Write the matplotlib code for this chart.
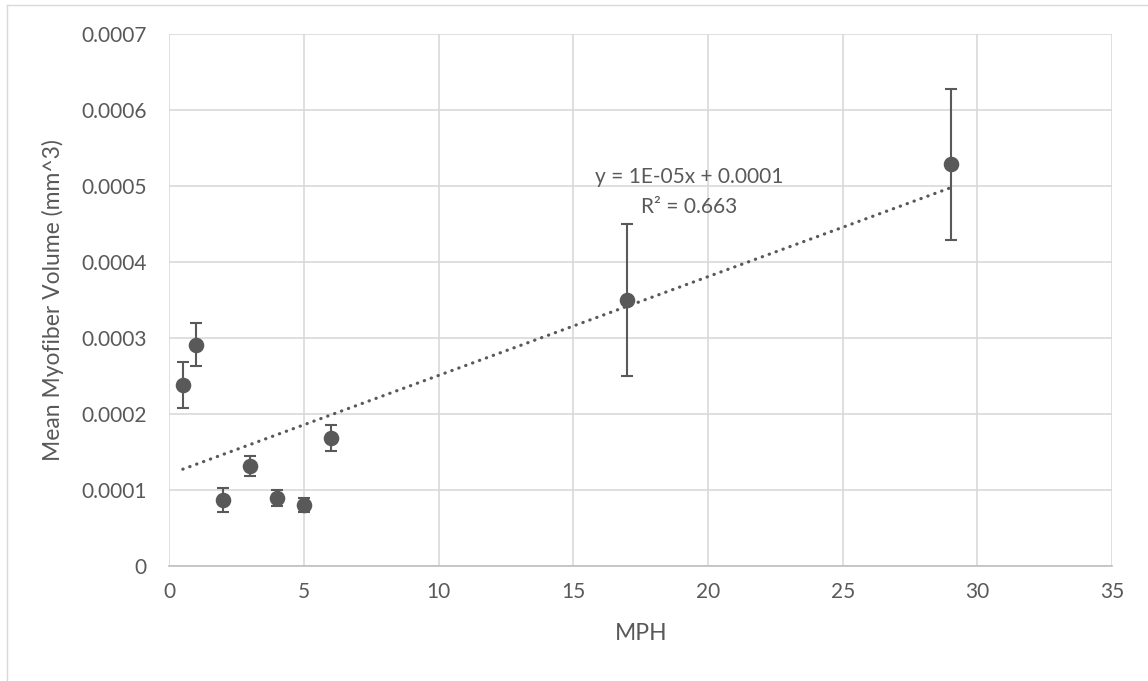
import matplotlib
matplotlib.use("Agg")
import matplotlib.pyplot as plt
from matplotlib.lines import Line2D
import numpy as np

# Datos
mph = [0.5, 1, 2, 3, 4, 5, 6, 17, 29]
volume = [0.000238, 0.000291, 0.0000865, 0.000131, 0.000089, 0.000080, 0.000168, 0.000350, 0.000528]
volume_err = [0.000030, 0.000028, 0.000016, 0.000013, 0.000011, 0.0000095, 0.000017, 0.000100, 0.000099]

x_ticks = [0, 5, 10, 15, 20, 25, 30, 35]
y_ticks = [0, 0.0001, 0.0002, 0.0003, 0.0004, 0.0005, 0.0006, 0.0007]
y_tick_labels = ["0", "0.0001", "0.0002", "0.0003", "0.0004", "0.0005", "0.0006", "0.0007"]

trend_eq = "y = 1E-05x + 0.0001"
trend_r2 = "R² = 0.663"

TEXT = "#595959"
GRID = "#d9d9d9"
MARK = "#595959"

plt.rcParams["font.family"] = ["Lato", "DejaVu Sans"]

fig = plt.figure(figsize=(11.48, 6.81), dpi=100)
ax = fig.add_axes([0.1475, 0.1693, 0.8213, 0.7812])

# Marco exterior del área del gráfico (estilo Excel)
fig.add_artist(Line2D([7 / 1148, 7 / 1148], [0, 1 - 5 / 681], transform=fig.transFigure,
                      color=GRID, linewidth=1))
fig.add_artist(Line2D([7 / 1148, 1], [1 - 5 / 681, 1 - 5 / 681], transform=fig.transFigure,
                      color=GRID, linewidth=1))

ax.errorbar(mph, volume, yerr=volume_err, fmt="o", color=MARK, markersize=10.2,
            ecolor=MARK, elinewidth=1.5, capsize=4.4, capthick=1.5, zorder=3)

# Línea de tendencia lineal
slope, intercept = np.polyfit(mph, volume, 1)
xs = np.array([min(mph), max(mph)])
ax.plot(xs, slope * xs + intercept, color=MARK, linewidth=2.3,
        linestyle=(0, (0.1, 2.2)), dash_capstyle="round", zorder=2)

ax.text(19.3, 0.000512, trend_eq, ha="center", va="center", fontsize=15, color=TEXT)
ax.text(19.3, 0.000472, trend_r2, ha="center", va="center", fontsize=15, color=TEXT)

ax.set_xlim(0, 35)
ax.set_ylim(0, 0.0007)
ax.set_xticks(x_ticks)
ax.set_yticks(y_ticks)
ax.set_yticklabels(y_tick_labels)
ax.tick_params(axis="both", length=0, labelsize=15, labelcolor=TEXT)
ax.tick_params(axis="x", pad=12)
ax.tick_params(axis="y", pad=16.5)

ax.grid(True, color=GRID, linewidth=1.2)
ax.set_axisbelow(True)
for side in ["top", "right", "left"]:
    ax.spines[side].set_visible(False)
ax.spines["bottom"].set_color("#bfbfbf")
ax.spines["bottom"].set_linewidth(1.2)

ax.set_xlabel("MPH", fontsize=16.5, color=TEXT)
ax.set_ylabel("Mean Myofiber Volume (mm^3)", fontsize=16.5, color=TEXT)
ax.xaxis.set_label_coords(0.5, -0.108)
ax.yaxis.set_label_coords(-0.112, 0.5)

fig.savefig("out.png", dpi=100)
plt.close(fig)
